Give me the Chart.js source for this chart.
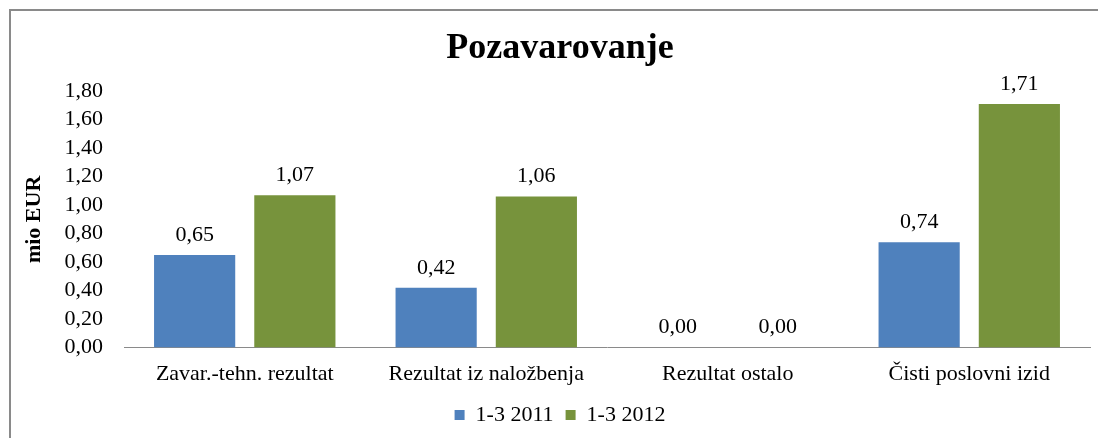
<!DOCTYPE html>
<html>
<head>
<meta charset="utf-8">
<script src="https://cdn.jsdelivr.net/npm/chart.js@4.4.1/dist/chart.umd.min.js"></script>
<style>
  html, body { margin: 0; padding: 0; background: #fff; }
  #wrap { position: relative; width: 1098px; height: 438px; overflow: hidden; }
  #frame { position: absolute; left: 9px; top: 9px; width: 1200px; height: 600px;
           border-top: 2px solid #8a8a8a; border-left: 2px solid #8a8a8a; }
  canvas { position: absolute; left: 0; top: 0; }
</style>
</head>
<body>
<div id="wrap">
  <div id="frame"></div>
  <canvas id="myChart" width="1098" height="438"></canvas>
</div>
<script>
const categories = ["Zavar.-tehn. rezultat", "Rezultat iz naložbenja", "Rezultat ostalo", "Čisti poslovni izid"];
const seriesNames = ["1-3 2011", "1-3 2012"];
const values2011 = [0.65, 0.42, 0.00, 0.74];
const values2012 = [1.07, 1.06, 0.00, 1.71];
const yTicks = [0, 0.2, 0.4, 0.6, 0.8, 1.0, 1.2, 1.4, 1.6, 1.8];

const fmt = (v) => v.toFixed(2).replace('.', ',');
const serif = "'Liberation Serif', 'Times New Roman', serif";

//value labels above the bars
const barLabels = {
    id: 'barLabels',
    afterDatasetsDraw(chart) {
        const ctx = chart.ctx;
        ctx.save();
        ctx.font = "22px " + serif;
        ctx.fillStyle = "#000";
        ctx.textAlign = "center";
        ctx.textBaseline = "middle";
        chart.data.datasets.forEach((ds, i) => {
            chart.getDatasetMeta(i).data.forEach((bar, j) => {
                ctx.fillText(fmt(ds.data[j]), bar.x, bar.y - 20);
            });
        });
        ctx.restore();
    }
};

const info = {
    labels: categories,
    datasets: [
        {
            label: seriesNames[0],
            data: values2011,
            backgroundColor: "#4F81BD",
            categoryPercentage: 0.83,
            barPercentage: 0.81
        },
        {
            label: seriesNames[1],
            data: values2012,
            backgroundColor: "#77933C",
            categoryPercentage: 0.83,
            barPercentage: 0.81
        }
    ]
};

const options = {
    responsive: false,
    animation: false,
    layout: { padding: { left: 30, right: 8, top: 0, bottom: 2 } },
    scales: {
        x: {
            grid: { display: false, drawTicks: false },
            border: { display: true, color: "#8a8a8a", width: 1 },
            ticks: { color: "#000", font: { family: serif, size: 22 }, padding: 13, autoSkip: false, maxRotation: 0 },
            afterFit: (axis) => { axis.height -= 8; }
        },
        y: {
            min: 0,
            max: 1.8,
            afterBuildTicks: (axis) => { axis.ticks = yTicks.map((v) => ({ value: v })); },
            afterFit: (axis) => { axis.width = 94; },
            grid: { display: false, drawTicks: false },
            border: { display: false },
            ticks: { color: "#000", font: { family: serif, size: 22 }, padding: 21, autoSkip: false,
                     callback: (v) => fmt(v) },
            title: { display: true, text: "mio EUR", color: "#000",
                     font: { family: serif, size: 22, weight: "bold" }, padding: { top: -9, bottom: 0 } }
        }
    },
    plugins: {
        title: {
            display: true,
            text: "Pozavarovanje",
            color: "#000",
            font: { family: serif, size: 36, weight: "bold" },
            padding: { top: 27, bottom: 21 }
        },
        legend: {
            position: "bottom",
            labels: { color: "#000", font: { family: serif, size: 22 }, boxWidth: 10, boxHeight: 10, padding: 12 }
        },
        tooltip: { enabled: false }
    }
};

new Chart(document.getElementById('myChart'), {
    type: "bar",
    data: info,
    options,
    plugins: [barLabels]
});
</script>
</body>
</html>
